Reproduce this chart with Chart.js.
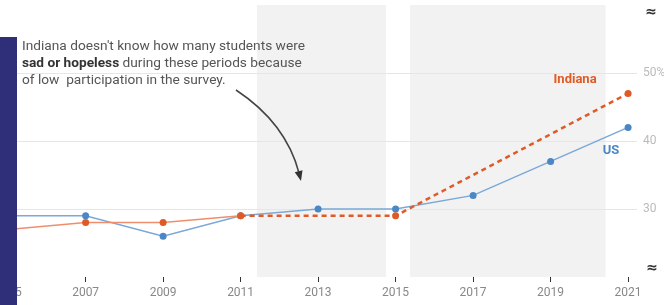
<!DOCTYPE html>
<html lang="en">
<head>
<meta charset="UTF-8">
<title>Students who felt sad or hopeless: Indiana vs US</title>
<script src="https://cdn.jsdelivr.net/npm/chart.js"></script>
<style>
    html, body { margin: 0; padding: 0; background: #fff; overflow: hidden; }
    body { width: 664px; height: 305px; position: relative; font-family: Roboto, sans-serif; }
    .chart-wrap { position: absolute; left: -40px; top: 0; width: 704px; height: 305px; }
    .side-bar { position: absolute; left: 0; top: 37px; width: 17px; height: 268px; background: #2e2f78; }
    .note { position: absolute; left: 22px; top: 37px; font-size: 13.7px; line-height: 17px; color: #555; white-space: nowrap; }
    .note b { color: #333; }
</style>
</head>
<body>
    <div class="chart-wrap"><canvas id="chart" width="704" height="305"></canvas></div>
    <div class="side-bar"></div>
    <div class="note">
        Indiana doesn't know how many students were<br>
        <b>sad or hopeless</b> during these periods because<br>
        of low&nbsp; participation in the survey.
    </div>

<script>
    // survey years and % of students who felt sad or hopeless
    const years = [2005, 2007, 2009, 2011, 2013, 2015, 2017, 2019, 2021];
    const indianaValues = [27, 28, 28, 29, null, 29, null, null, 47];
    const usValues = [29, 29, 26, 29, 30, 30, 32, 37, 42];
    const yTicks = [30, 40, 50];
    // years with no usable Indiana data (shaded)
    const noDataPeriods = [[2011.42, 2014.75], [2015.37, 2020.42]];

    const indianaColor = '#e05a26';
    const usColor = '#4b87c5';

    const gap = ctx => ctx.p0.skip || ctx.p1.skip;

    const backdrop = {
        id: 'backdrop',
        beforeDraw(chart) {
            const { ctx, chartArea, scales: { x } } = chart;
            ctx.save();
            ctx.fillStyle = '#f2f2f2';
            noDataPeriods.forEach(([a, b]) => {
                const x0 = x.getPixelForValue(a);
                const x1 = x.getPixelForValue(b);
                ctx.fillRect(x0, chartArea.top, x1 - x0, chartArea.bottom - chartArea.top);
            });
            ctx.restore();
        }
    };

    const extras = {
        id: 'extras',
        afterDraw(chart) {
            const { ctx, chartArea, scales: { x, y } } = chart;
            const last = years.length - 1;
            const lx = x.getPixelForValue(years[last]);
            ctx.save();
            ctx.textAlign = 'center';
            ctx.textBaseline = 'middle';
            ctx.font = 'bold 13px Roboto';
            ctx.fillStyle = indianaColor;
            ctx.fillText('Indiana', lx - 53, y.getPixelForValue(indianaValues[last]) - 14);
            ctx.fillStyle = usColor;
            ctx.fillText('US', lx - 17, y.getPixelForValue(usValues[last]) + 23);

            // axis break marks
            ctx.fillStyle = '#333';
            ctx.font = 'bold 14px "DejaVu Sans"';
            ctx.fillText('≈', chartArea.right + 14, chartArea.top + 7);
            ctx.fillText('≈', chartArea.right + 15, chartArea.bottom - 9);

            // curved arrow from the note into the shaded period
            const sx = 276, sy = 90, ex = 341, ey = 181;
            const dx = 0.24, dy = 0.97;
            ctx.strokeStyle = '#444';
            ctx.lineWidth = 1.5;
            ctx.beginPath();
            ctx.moveTo(sx, sy);
            ctx.quadraticCurveTo(326, 123, ex - dx * 8, ey - dy * 8);
            ctx.stroke();
            ctx.fillStyle = '#333';
            ctx.beginPath();
            ctx.moveTo(ex, ey);
            ctx.lineTo(ex - dx * 10 - dy * 4, ey - dy * 10 + dx * 4);
            ctx.lineTo(ex - dx * 10 + dy * 4, ey - dy * 10 - dx * 4);
            ctx.closePath();
            ctx.fill();
            ctx.restore();
        }
    };

    new Chart(document.getElementById('chart'), {
        type: 'line',
        data: {
            datasets: [
                {
                    label: 'Indiana',
                    data: years.map((yr, i) => ({ x: yr, y: indianaValues[i] })),
                    borderColor: indianaColor,
                    borderWidth: 2.5,
                    pointRadius: 3.5,
                    pointBackgroundColor: indianaColor,
                    pointBorderWidth: 0,
                    spanGaps: true,
                    segment: {
                        borderDash: ctx => gap(ctx) ? [5, 4] : undefined,
                        borderColor: ctx => gap(ctx) ? undefined : '#ee8e6c',
                        borderWidth: ctx => gap(ctx) ? undefined : 1.5
                    }
                },
                {
                    label: 'US',
                    data: years.map((yr, i) => ({ x: yr, y: usValues[i] })),
                    borderColor: '#7aa8d8',
                    borderWidth: 1.5,
                    pointRadius: 3.5,
                    pointBackgroundColor: usColor,
                    pointBorderWidth: 0
                }
            ]
        },
        options: {
            responsive: false,
            animation: false,
            layout: { padding: { left: 40, top: 5, right: 0, bottom: 0 } },
            plugins: {
                legend: { display: false },
                tooltip: { enabled: false }
            },
            scales: {
                x: {
                    type: 'linear',
                    min: 2004.79,
                    max: 2021.23,
                    afterBuildTicks: s => { s.ticks = years.map(v => ({ value: v })); },
                    afterFit: s => { s.height = 28; s.paddingLeft = 0; s.paddingRight = 0; },
                    ticks: {
                        callback: v => String(v),
                        color: '#888',
                        font: { family: 'Roboto', size: 12 },
                        padding: 4,
                        autoSkip: false,
                        maxRotation: 0
                    },
                    grid: { drawOnChartArea: false, drawTicks: true, tickLength: 5, color: '#333' },
                    border: { display: false }
                },
                y: {
                    position: 'right',
                    min: 20,
                    max: 60,
                    afterFit: s => { s.width = 27; s.paddingTop = 0; s.paddingBottom = 0; },
                    ticks: {
                        stepSize: 10,
                        callback: v => yTicks.includes(v) ? (v === 50 ? '50%' : String(v)) : '',
                        color: '#bbb',
                        font: { family: 'Roboto', size: 12 },
                        padding: 6
                    },
                    grid: {
                        drawTicks: false,
                        color: ctx => yTicks.includes(ctx.tick.value) ? '#e6e6e6' : 'transparent'
                    },
                    border: { display: false }
                }
            }
        },
        plugins: [backdrop, extras]
    });
</script>
</body>
</html>
